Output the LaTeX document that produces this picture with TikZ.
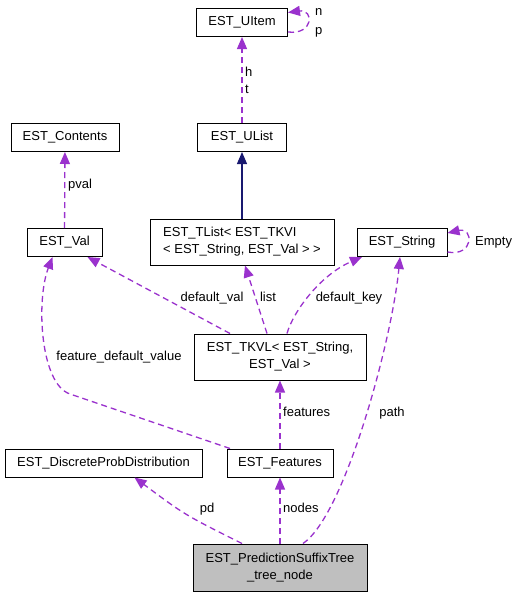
\documentclass[tikz,border=0pt]{standalone}
\usepackage{fontspec}
\setmainfont{Liberation Sans}
\usetikzlibrary{arrows.meta}
\definecolor{edgepurple}{HTML}{9A32CD}
\definecolor{edgenavy}{HTML}{191970}
\definecolor{rootgray}{HTML}{BFBFBF}

\begin{document}
\begin{tikzpicture}[x=1pt,y=-1pt,
    font=\fontsize{13}{17}\selectfont,
    cls/.style={draw=black, line width=1pt, rectangle, inner sep=0pt,
      minimum height=28pt, align=center},
    usage/.style={draw=edgepurple, line width=1.3pt, dash pattern=on 6pt off 4pt,
      -{Triangle[length=12pt,width=10pt]}},
    inherit/.style={draw=edgenavy, line width=1.3pt,
      -{Triangle[length=12pt,width=10pt]}},
    lbl/.style={inner sep=0pt, text height=9.5pt, text depth=2.5pt}]

        \useasboundingbox (0,0) rectangle (519,597);

        \begin{scope}[every node/.style={cls}]
          \node[minimum width=91pt]  (uitem)    at (242,22.5)  {EST\_UItem};
          \node[minimum width=89pt]  (ulist)    at (242,137.5) {EST\_UList};
          \node[minimum width=108pt] (contents) at (65,137.5)  {EST\_Contents};
          \node[minimum width=75pt]  (val)      at (64.5,242.5) {EST\_Val};
          \node[minimum width=184pt, minimum height=46pt, align=left]
                                     (tlist)    at (242,242)   {EST\_TList< EST\_TKVI\\< EST\_String, EST\_Val > >};
          \node[minimum width=90pt]  (string)   at (402,242.5) {EST\_String};
          \node[minimum width=172pt, minimum height=46pt]
                                     (tkvl)     at (280,357)   {EST\_TKVL< EST\_String,\\EST\_Val >};
          \node[minimum width=197pt] (dpd)      at (103.5,463) {EST\_DiscreteProbDistribution};
          \node[minimum width=106pt] (features) at (280,463)   {EST\_Features};
          \node[minimum width=174pt, minimum height=47pt, fill=rootgray]
                                     (root)     at (280,567.5) {EST\_PredictionSuffixTree\\\_tree\_node};
        \end{scope}

        % connectors
        \path (ulist) edge[usage] (uitem);
        \draw[usage] ([yshift=-9.5pt]uitem.east) .. controls (314,35) and (314,9) .. ([yshift=10pt]uitem.east);
        \path (tlist) edge[inherit] (ulist);
        \path (val) edge[usage] (contents);
        \path ([xshift=-50pt]tkvl.north) edge[usage] ([xshift=23pt]val.south);
        \path ([xshift=-13pt]tkvl.north) edge[usage] ([xshift=3pt]tlist.south);
        \draw[usage] ([xshift=7pt]tkvl.north) .. controls (293,312) and (320,275) .. ([xshift=-40pt]string.south);
        \draw[usage] ([yshift=-9.5pt]string.east) .. controls (474,257) and (474,227) .. ([yshift=9.5pt]string.east);
        \draw[usage] ([xshift=23pt]root.north) .. controls (345,515) and (392,340) .. ([xshift=-2pt]string.south);
        \draw[usage] ([xshift=-50pt]features.north) -- (70,394) .. controls (40,384) and (36,300) .. ([xshift=-12pt]val.south);
        \path (features) edge[usage] (tkvl);
        \draw[usage] ([xshift=-38pt]root.north) .. controls (185,515) .. ([xshift=31pt]dpd.south);
        \path (root) edge[usage] (features);

        % labels
        \begin{scope}[every node/.style={lbl}]
          \node[anchor=west, align=left, text height=, text depth=] (l-ht) at (245,80.5) {h\\t};
          \node[anchor=west, align=left, text height=, text depth=] (l-np) at (315,22.5) {n\\[2pt]p};
          \node[anchor=west] (l-pval)     at (68,185)  {pval};
          \node              (l-defval)   at (212,298) {default\_val};
          \node              (l-list)     at (268,298) {list};
          \node              (l-defkey)   at (349,298) {default\_key};
          \node[anchor=west] (l-empty)    at (475,242) {Empty};
          \node              (l-fdv)      at (119,357) {feature\_default\_value};
          \node[anchor=west] (l-features) at (283,413) {features};
          \node              (l-path)     at (392,413) {path};
          \node              (l-pd)       at (207,509) {pd};
          \node[anchor=west] (l-nodes)    at (283,509) {nodes};
        \end{scope}

      \end{tikzpicture}
\end{document}
